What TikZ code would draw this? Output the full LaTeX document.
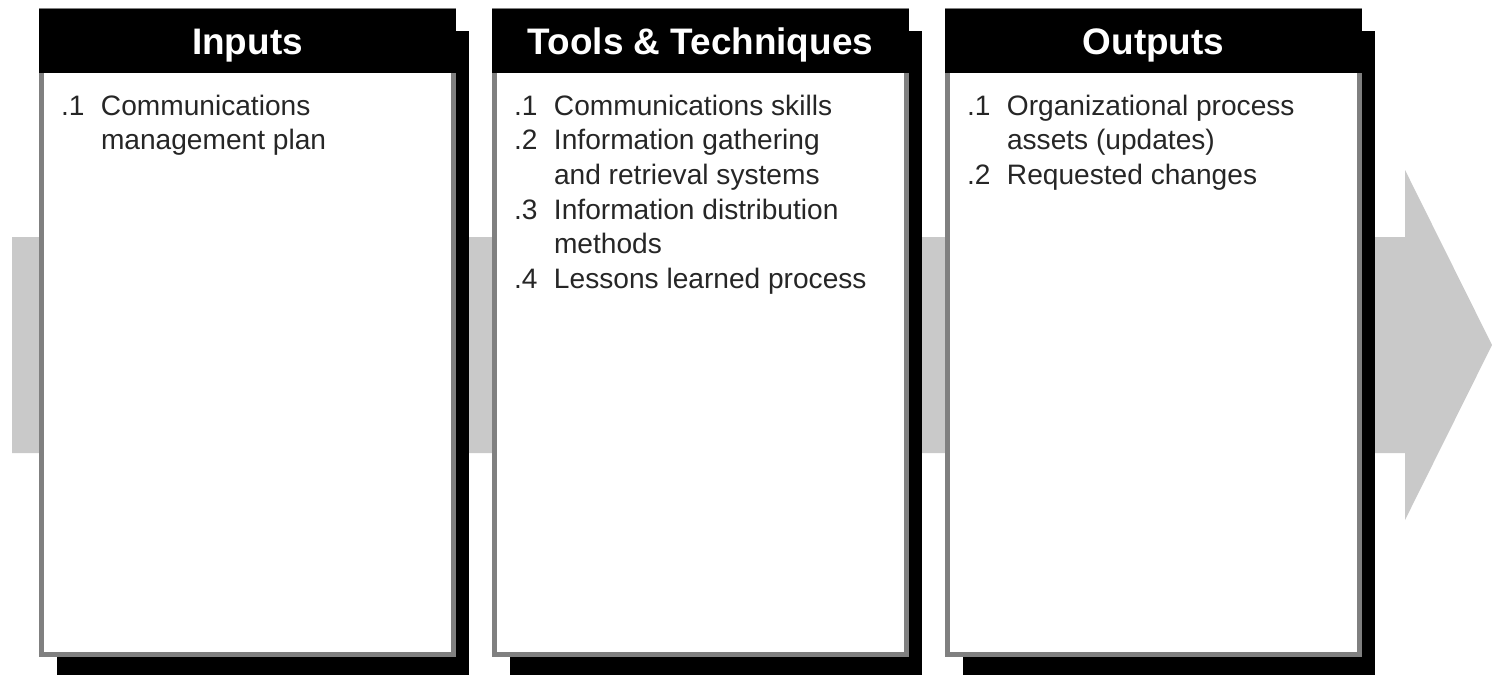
\documentclass[tikz,border=0pt]{standalone}
\usepackage{fontspec}
\setmainfont{Liberation Sans}
\usetikzlibrary{positioning,shadows}

\begin{document}
\begin{tikzpicture}[x=0.1mm, y=0.1mm,
                    flow/.style = {fill=black!21},
                    panel/.style = {draw=black!50, line width=0.5mm, fill=white,
                                    minimum width=41.2mm, minimum height=64.4mm, inner sep=0pt,
                                    drop shadow={opacity=1, fill=black, shadow xshift=1.5mm, shadow yshift=-2mm}},
                    header/.style = {fill=black, text=white, anchor=north, inner sep=0pt,
                                     minimum width=41.7mm, minimum height=6.4mm,
                                     text height=2.7mm, text depth=0pt,
                                     font=\bfseries\fontsize{10.5}{12}\selectfont},
                    items/.style = {inner sep=0pt, text=black!85, font=\fontsize{8}{9.85}\selectfont}]
                    \useasboundingbox (0,0) rectangle (1492,677);

                    % big grey process arrow behind the panels
                    \fill[flow] (12,224) -- (1405,224) -- (1405,157) -- (1492,332)
                                -- (1405,507) -- (1405,440) -- (12,440) -- cycle;

                    \node[panel, anchor=north west] (pIn) at (39,669) {};
                    \node[panel, right=3.6mm of pIn] (pTools) {};
                    \node[panel, right=3.6mm of pTools] (pOut) {};

                    \node[header] (hIn) at (pIn.north) {Inputs};
                    \node[header] (hTools) at (pTools.north) {Tools \& Techniques};
                    \node[header] (hOut) at (pOut.north) {Outputs};

                    \node[items, below right=1.7mm and 2.2mm of hIn.south west] (lIn) {%
                      \begin{tabular}{@{}p{4mm}@{}l@{}}
                        .1 & Communications\\
                           & management plan
                      \end{tabular}};
                    \node[items, below right=1.7mm and 2.2mm of hTools.south west] (lTools) {%
                      \begin{tabular}{@{}p{4mm}@{}l@{}}
                        .1 & Communications skills\\
                        .2 & Information gathering\\
                           & and retrieval systems\\
                        .3 & Information distribution\\
                           & methods\\
                        .4 & Lessons learned process
                      \end{tabular}};
                    \node[items, below right=1.7mm and 2.2mm of hOut.south west] (lOut) {%
                      \begin{tabular}{@{}p{4mm}@{}l@{}}
                        .1 & Organizational process\\
                           & assets (updates)\\
                        .2 & Requested changes
                      \end{tabular}};
\end{tikzpicture}
\end{document}
